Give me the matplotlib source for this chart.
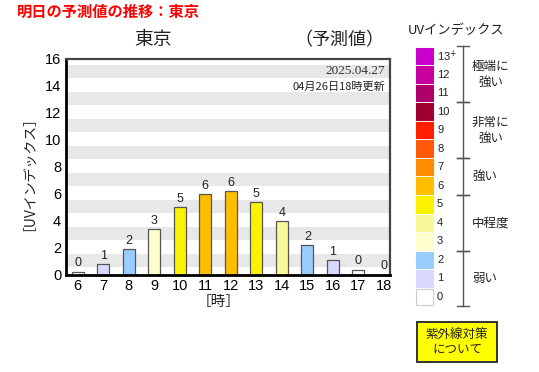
import matplotlib
matplotlib.use("Agg")
import matplotlib.pyplot as plt
from matplotlib.patches import Rectangle

plt.rcParams['font.family'] = ['Liberation Sans', 'Noto Sans CJK JP', 'DejaVu Sans']

# hourly forecast
hours = [6, 7, 8, 9, 10, 11, 12, 13, 14, 15, 16, 17, 18]
uv_values = [0.22, 0.75, 1.87, 3.36, 4.98, 5.97, 6.19, 5.37, 3.96, 2.2, 1.04, 0.37, 0.0]

# legend scale, top to bottom
legend_labels = ['13$^{+}$', '12', '11', '10', '9', '8', '7', '6', '5', '4', '3', '2', '1', '0']
legend_colors = ['#CC00CC', '#C800A0', '#B0006A', '#A00030', '#FF1E00', '#FF5A0A', '#FF8C00',
                 '#FFBE00', '#FAF200', '#F8F898', '#FFFFCC', '#99CCFF', '#D9D9FF', '#FFFFFF']
groups = ['極端に\n強い', '非常に\n強い', '強い', '中程度', '弱い']
group_rows = [(0, 3), (3, 6), (6, 8), (8, 11), (11, 14)]

W, H = 539, 372


def fx(x):
    return x / W


def fy(y):
    return 1 - y / H


def uv_color(v):
    i = min(int(round(v)), 13)
    return legend_colors[13 - i]


fig = plt.figure(figsize=(W / 100, H / 100), dpi=100)

# main chart
left, right, top, bottom = 66, 390, 58.5, 274.5
ax = fig.add_axes([fx(left), fy(bottom), (right - left) / W, (bottom - top) / H])
for k in range(8):
    ax.axhspan(2 * k + 0.55, 2 * k + 1.5, color='#E8E8E8', lw=0, zorder=0)

ax.bar(hours, uv_values, width=0.48, color=[uv_color(v) for v in uv_values],
       edgecolor='#555555', linewidth=0.9, zorder=2)
for h, v in zip(hours, uv_values):
    ax.annotate(str(int(round(v))), (h, v), xytext=(0, 1.5), textcoords='offset points',
                ha='center', va='bottom', fontsize=9, color='#222222')

ax.set_xlim(5.54, 18.24)
ax.set_ylim(0, 16)
ax.set_xticks(hours)
ax.set_yticks(range(0, 17, 2))
ax.tick_params(length=0, labelsize=10.5, pad=3.5)
for s in ['left', 'bottom']:
    ax.spines[s].set_linewidth(2)
    ax.spines[s].set_color('black')
for s in ['top', 'right']:
    ax.spines[s].set_linewidth(1.6)
    ax.spines[s].set_color('#444444')
ax.set_facecolor('white')

fig.text(fx(385), fy(71), '2025.04.27', ha='right', va='center',
         fontsize=9.5, family='Liberation Serif', color='#333333')
fig.text(fx(385), fy(86.5), '04月26日18時更新', ha='right', va='center', fontsize=8,
         family=['Noto Sans CJK JP'], color='#222222')

# titles and axis labels
fig.text(fx(17), fy(12), '明日の予測値の推移：東京', ha='left', va='center', fontsize=11,
         fontweight='bold', color='#FF0000', family=['Noto Sans CJK JP'])
fig.text(fx(153), fy(40), '東京', ha='center', va='center', fontsize=13.5, color='#222222',
         family=['Noto Sans CJK JP'])
fig.text(fx(339), fy(40), '（予測値）', ha='center', va='center', fontsize=13, color='#222222',
         family=['Noto Sans CJK JP'])
fig.text(fx(22), fy(166), '［UVインデックス］', ha='center', va='center', rotation=90,
         fontsize=10, color='#222222', family=['Noto Sans CJK JP'])
fig.text(fx(219), fy(302), '［時］', ha='center', va='center', fontsize=10.5, color='#222222',
         family=['Noto Sans CJK JP'])

# legend
lg = fig.add_axes([0, 0, 1, 1], facecolor='none')
lg.set_xlim(0, W)
lg.set_ylim(H, 0)
lg.axis('off')
lg.text(456, 30, 'UVインデックス', ha='center', va='center', fontsize=9.5, color='#222222',
        family=['Noto Sans CJK JP'])
row_top, row_h = 47.7, 18.54
for i, (lab, col) in enumerate(zip(legend_labels, legend_colors)):
    y0 = row_top + i * row_h
    edge = '#CCCCCC' if col == '#FFFFFF' else col
    lg.add_patch(Rectangle((416, y0), 17, row_h - 2, facecolor=col, edgecolor=edge, lw=0.8))
    lg.text(437, y0 + (row_h - 2) / 2, lab, ha='left', va='center', fontsize=8, color='#222222')

lg.plot([463, 463], [row_top - 2, row_top + 14 * row_h - 1], color='#555555', lw=1)
for a, b in group_rows:
    for r in (a, b):
        yy = row_top + r * row_h - (2 if r == 0 else 1)
        lg.plot([457, 469], [yy, yy], color='#555555', lw=1)
for name, (a, b) in zip(groups, group_rows):
    yc = row_top + (a + b) / 2 * row_h - 1
    lg.text(472, yc, name, ha='left', va='center', multialignment='center', fontsize=9,
            linespacing=1.35, color='#222222', family=['Noto Sans CJK JP'])

lg.add_patch(Rectangle((417, 322), 80, 40, facecolor='#FFFF00', edgecolor='#333333', lw=1.4))
lg.text(457, 342, '紫外線対策\nについて', ha='center', va='center', fontsize=9,
        linespacing=1.2, color='#222222', family=['Noto Sans CJK JP'])

fig.savefig('out.png', dpi=100)
